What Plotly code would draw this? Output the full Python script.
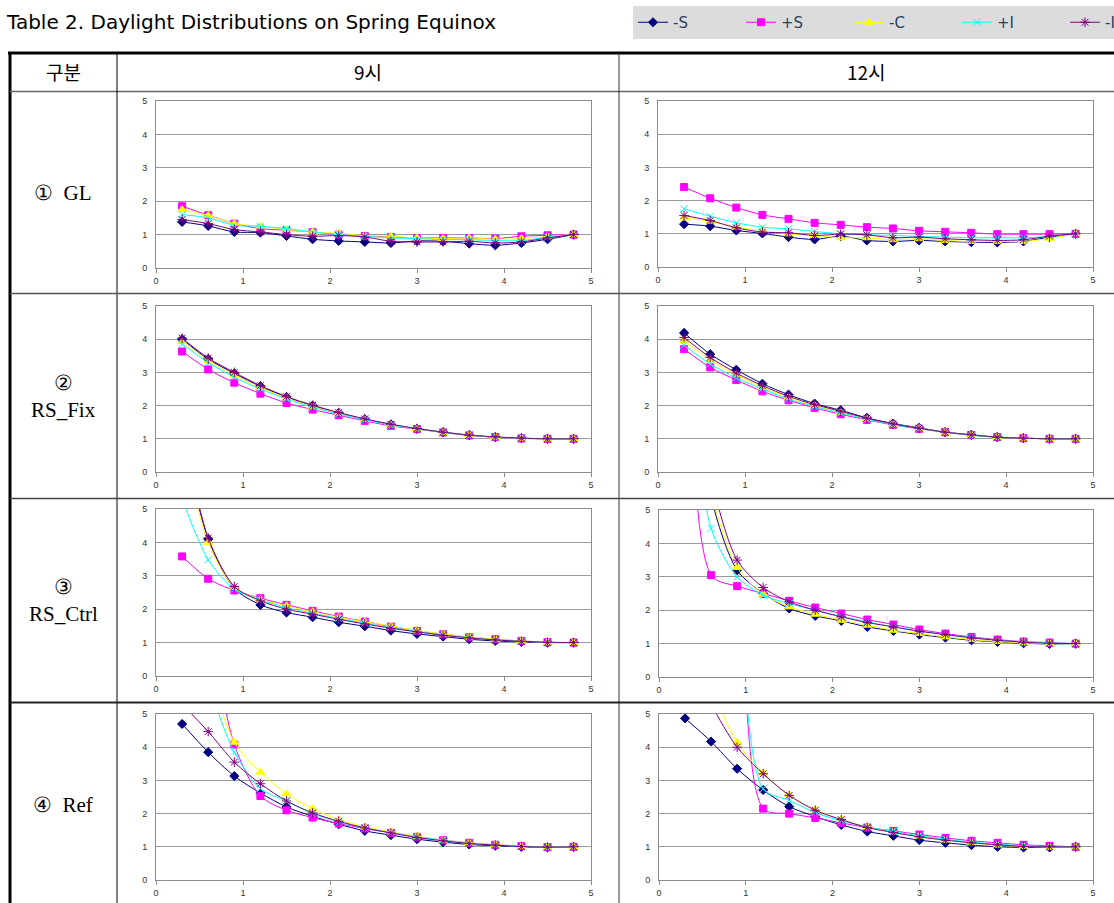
import plotly.graph_objects as go

W, H = 1114, 903

X = [0.3, 0.6, 0.9, 1.2, 1.5, 1.8, 2.1, 2.4, 2.7, 3.0, 3.3, 3.6, 3.9, 4.2, 4.5, 4.8]
SERIES = ["-S", "+S", "-C", "+I", "-I"]
COLORS = {"-S": "#000080", "+S": "#FF00FF", "-C": "#FFFF00", "+I": "#00FFFF", "-I": "#800080"}
SYMBOLS = {"-S": "diamond", "+S": "square", "-C": "triangle-up", "+I": "x-thin-open", "-I": "asterisk-open"}
SIZES = {"-S": 7, "+S": 7, "-C": 8, "+I": 7, "-I": 8}

ROW_LABELS = ["\u2460  GL", "\u2461<br>RS_Fix", "\u2462<br>RS_Ctrl", "\u2463  Ref"]
COL_LABELS = ["9\uc2dc", "12\uc2dc"]
HEAD_LABEL = "\uad6c\ubd84"
TITLE = "Table 2. Daylight Distributions on Spring Equinox"

GL_9 = {
    "-S": [1.38, 1.26, 1.08, 1.06, 0.96, 0.86, 0.81, 0.78, 0.75, 0.81, 0.80, 0.73, 0.68, 0.75, 0.86, 1.0],
    "+S": [1.85, 1.58, 1.33, 1.18, 1.13, 1.08, 1.00, 0.96, 0.93, 0.90, 0.90, 0.90, 0.88, 0.95, 0.98, 1.0],
    "-C": [1.75, 1.57, 1.33, 1.25, 1.15, 1.08, 1.04, 0.97, 0.95, 0.90, 0.88, 0.90, 0.86, 0.88, 0.94, 1.0],
    "+I": [1.60, 1.50, 1.28, 1.25, 1.18, 1.08, 1.00, 0.95, 0.90, 0.88, 0.85, 0.85, 0.82, 0.82, 0.92, 1.0],
    "-I": [1.45, 1.33, 1.15, 1.08, 1.00, 0.95, 0.97, 0.93, 0.80, 0.78, 0.78, 0.80, 0.75, 0.78, 0.90, 1.0],
}
GL_12 = {
    "-S": [1.29, 1.23, 1.10, 1.01, 0.90, 0.83, 0.93, 0.80, 0.77, 0.80, 0.77, 0.75, 0.74, 0.77, 0.90, 1.0],
    "+S": [2.41, 2.07, 1.79, 1.57, 1.45, 1.33, 1.27, 1.20, 1.16, 1.09, 1.06, 1.03, 0.99, 0.99, 0.99, 1.0],
    "-C": [1.48, 1.38, 1.20, 1.10, 1.00, 0.95, 0.88, 0.88, 0.82, 0.85, 0.80, 0.77, 0.77, 0.77, 0.86, 1.0],
    "+I": [1.75, 1.53, 1.33, 1.20, 1.15, 1.07, 1.00, 0.97, 0.95, 0.92, 0.90, 0.88, 0.88, 0.88, 0.92, 1.0],
    "-I": [1.55, 1.40, 1.18, 1.05, 1.03, 0.95, 0.99, 0.97, 0.88, 0.90, 0.85, 0.82, 0.80, 0.82, 0.93, 1.0],
}
FIX_9 = {
    "-S": [4.00, 3.40, 2.97, 2.58, 2.26, 2.00, 1.78, 1.59, 1.43, 1.30, 1.20, 1.11, 1.05, 1.02, 1.0, 1.0],
    "+S": [3.63, 3.09, 2.69, 2.36, 2.08, 1.88, 1.71, 1.54, 1.39, 1.29, 1.19, 1.10, 1.05, 1.01, 1.0, 1.0],
    "-C": [3.93, 3.36, 2.92, 2.54, 2.23, 1.97, 1.77, 1.58, 1.42, 1.30, 1.19, 1.11, 1.05, 1.02, 1.0, 1.0],
    "+I": [3.85, 3.30, 2.85, 2.50, 2.20, 1.95, 1.75, 1.57, 1.42, 1.30, 1.19, 1.11, 1.05, 1.02, 1.0, 1.0],
    "-I": [4.03, 3.43, 3.00, 2.60, 2.27, 2.01, 1.79, 1.60, 1.44, 1.31, 1.20, 1.11, 1.06, 1.02, 1.0, 1.0],
}
FIX_12 = {
    "-S": [4.19, 3.55, 3.08, 2.66, 2.33, 2.06, 1.86, 1.63, 1.46, 1.33, 1.20, 1.12, 1.05, 1.02, 1.0, 1.0],
    "+S": [3.70, 3.15, 2.77, 2.43, 2.16, 1.93, 1.74, 1.57, 1.42, 1.30, 1.20, 1.11, 1.05, 1.02, 1.0, 1.0],
    "-C": [3.95, 3.38, 2.93, 2.55, 2.25, 2.00, 1.80, 1.60, 1.44, 1.32, 1.20, 1.11, 1.05, 1.02, 1.0, 1.0],
    "+I": [3.82, 3.25, 2.83, 2.50, 2.20, 1.97, 1.78, 1.59, 1.43, 1.31, 1.20, 1.11, 1.05, 1.02, 1.0, 1.0],
    "-I": [4.05, 3.45, 2.98, 2.60, 2.28, 2.03, 1.83, 1.62, 1.45, 1.32, 1.20, 1.12, 1.05, 1.02, 1.0, 1.0],
}
CTRL_9 = {
    "-S": [7.3, 4.10, 2.62, 2.13, 1.90, 1.76, 1.61, 1.49, 1.36, 1.26, 1.18, 1.10, 1.05, 1.02, 1.0, 1.0],
    "+S": [3.58, 2.91, 2.56, 2.33, 2.13, 1.95, 1.78, 1.63, 1.48, 1.35, 1.25, 1.16, 1.10, 1.05, 1.01, 1.0],
    "-C": [7.0, 4.00, 2.65, 2.30, 2.10, 1.92, 1.76, 1.62, 1.50, 1.36, 1.26, 1.17, 1.10, 1.05, 1.01, 1.0],
    "+I": [5.3, 3.48, 2.60, 2.28, 2.05, 1.88, 1.72, 1.58, 1.45, 1.33, 1.23, 1.15, 1.08, 1.04, 1.01, 1.0],
    "-I": [7.5, 4.13, 2.68, 2.25, 2.00, 1.85, 1.70, 1.56, 1.43, 1.32, 1.22, 1.14, 1.08, 1.04, 1.01, 1.0],
}
CTRL_12 = {
    "-S": [12.0, 5.4, 3.20, 2.50, 2.05, 1.83, 1.68, 1.50, 1.38, 1.27, 1.18, 1.10, 1.05, 1.01, 0.99, 1.0],
    "+S": [20.0, 3.05, 2.72, 2.50, 2.28, 2.08, 1.90, 1.72, 1.57, 1.42, 1.30, 1.20, 1.12, 1.06, 1.03, 1.0],
    "-C": [12.0, 5.6, 3.28, 2.48, 2.10, 1.88, 1.70, 1.55, 1.40, 1.30, 1.20, 1.12, 1.06, 1.02, 1.0, 1.0],
    "+I": [10.0, 4.45, 3.00, 2.45, 2.20, 2.00, 1.82, 1.65, 1.50, 1.38, 1.27, 1.18, 1.10, 1.05, 1.02, 1.0],
    "-I": [12.0, 6.0, 3.50, 2.68, 2.25, 2.00, 1.80, 1.63, 1.50, 1.37, 1.27, 1.17, 1.10, 1.04, 1.01, 1.0],
}
REF_9 = {
    "-S": [4.70, 3.85, 3.13, 2.62, 2.20, 1.92, 1.68, 1.48, 1.35, 1.23, 1.14, 1.07, 1.03, 1.00, 0.98, 1.0],
    "+S": [12.0, 8.0, 4.08, 2.53, 2.10, 1.88, 1.70, 1.55, 1.42, 1.30, 1.20, 1.12, 1.06, 1.02, 0.99, 1.0],
    "-C": [10.0, 6.5, 4.15, 3.25, 2.60, 2.15, 1.82, 1.60, 1.45, 1.32, 1.20, 1.12, 1.06, 1.02, 0.99, 1.0],
    "+I": [10.0, 6.0, 3.85, 2.75, 2.38, 2.00, 1.75, 1.57, 1.42, 1.30, 1.20, 1.10, 1.05, 1.01, 0.99, 1.0],
    "-I": [5.3, 4.47, 3.55, 2.90, 2.38, 2.02, 1.77, 1.57, 1.42, 1.28, 1.18, 1.10, 1.05, 1.01, 0.99, 1.0],
}
REF_12 = {
    "-S": [4.87, 4.17, 3.35, 2.71, 2.21, 1.91, 1.66, 1.46, 1.33, 1.20, 1.12, 1.05, 1.00, 0.98, 0.98, 1.0],
    "+S": [35.0, 25.0, 12.0, 2.15, 2.00, 1.87, 1.72, 1.58, 1.48, 1.37, 1.27, 1.18, 1.12, 1.06, 1.03, 1.0],
    "-C": [8.0, 5.8, 4.15, 3.22, 2.55, 2.12, 1.82, 1.60, 1.45, 1.32, 1.20, 1.12, 1.05, 1.01, 0.99, 1.0],
    "+I": [30.0, 20.0, 9.0, 2.75, 2.40, 2.03, 1.78, 1.60, 1.46, 1.33, 1.23, 1.14, 1.08, 1.03, 1.01, 1.0],
    "-I": [7.0, 5.3, 4.00, 3.20, 2.55, 2.10, 1.82, 1.58, 1.43, 1.30, 1.20, 1.12, 1.06, 1.01, 1.00, 1.0],
}

PANELS = [GL_9, GL_12, FIX_9, FIX_12, CTRL_9, CTRL_12, REF_9, REF_12]

# plot-area boxes in pixels (left, right, top, bottom)
BOXES = [
    (156, 591, 101, 268), (658, 1093, 101, 267),
    (156, 591, 306, 472), (658, 1093, 306, 472),
    (156, 591, 509, 676), (659, 1093, 510, 677),
    (156, 591, 714, 880), (659, 1093, 714, 880),
]


def px(x):
    return x / W


def py(y):
    return 1 - y / H


fig = go.Figure()
layout = {}
for i, (panel, box) in enumerate(zip(PANELS, BOXES)):
    n = i + 1
    xa = "x" if n == 1 else f"x{n}"
    ya = "y" if n == 1 else f"y{n}"
    for s in SERIES:
        fig.add_trace(go.Scatter(
            x=X, y=panel[s], xaxis=xa, yaxis=ya, name=s, legendgroup=s,
            showlegend=(n == 1), mode="lines+markers",
            line=dict(color=COLORS[s], width=1, shape="spline", smoothing=0.8),
            marker=dict(symbol=SYMBOLS[s], size=SIZES[s], color=COLORS[s],
                        line=dict(color=COLORS[s], width=1)),
        ))
    l, r, t, b = box
    layout["xaxis" if n == 1 else f"xaxis{n}"] = dict(
        domain=[px(l), px(r)], anchor=ya, range=[0, 5], tickvals=[0, 1, 2, 3, 4, 5],
        showgrid=False, zeroline=False, showline=True, mirror=True, linecolor="#8c8c8c",
        linewidth=1, ticks="outside", ticklen=4, tickcolor="#8c8c8c",
        tickfont=dict(family="Liberation Sans", size=9, color="#333333"), fixedrange=True,
    )
    layout["yaxis" if n == 1 else f"yaxis{n}"] = dict(
        domain=[py(b), py(t)], anchor=xa, range=[0, 5], tickvals=[0, 1, 2, 3, 4, 5],
        showgrid=True, gridcolor="#9a9a9a", gridwidth=1, zeroline=False, showline=True,
        mirror=True, linecolor="#8c8c8c", linewidth=1, ticks="", ticklabelstandoff=6,
        tickfont=dict(family="Liberation Sans", size=9, color="#333333"), fixedrange=True,
    )

shapes = []


def hline(y, x0, x1, color, width):
    shapes.append(dict(type="line", xref="paper", yref="paper", x0=px(x0), x1=px(x1),
                       y0=py(y), y1=py(y), line=dict(color=color, width=width)))


def vline(x, y0, y1, color, width):
    shapes.append(dict(type="line", xref="paper", yref="paper", x0=px(x), x1=px(x),
                       y0=py(y0), y1=py(y1), line=dict(color=color, width=width)))


hline(53, 8, W, "#000000", 3)
vline(10, 52, H, "#000000", 3)
hline(91.5, 10, W, "#666666", 1.5)
vline(117, 53, H, "#000000", 1)
vline(619, 53, H, "#333333", 1)
hline(293.5, 10, W, "#555555", 1.5)
hline(498.5, 10, W, "#444444", 1.5)
hline(702.5, 10, W, "#222222", 2)

annotations = []


def text(x, y, s, size, family, xanchor="center", color="#000000"):
    annotations.append(dict(x=px(x), y=py(y), xref="paper", yref="paper", text=s,
                            showarrow=False, xanchor=xanchor, yanchor="middle",
                            font=dict(size=size, family=family, color=color)))


text(4, 22, TITLE, 20, "DejaVu Sans", xanchor="left")
text(63, 72, HEAD_LABEL, 19, "Noto Sans CJK KR")
text(368, 72, COL_LABELS[0], 19, "Noto Sans CJK KR")
text(866, 72, COL_LABELS[1], 19, "Noto Sans CJK KR")
row_centers = [193, 397, 600, 805]
for lab, yc in zip(ROW_LABELS, row_centers):
    annotations.append(dict(x=px(63), y=py(yc), xref="paper", yref="paper", text=lab,
                            showarrow=False, xanchor="center", yanchor="middle",
                            font=dict(size=21, family="Liberation Serif", color="#000000")))

fig.update_layout(
    **layout,
    width=W, height=H,
    margin=dict(l=0, r=0, t=0, b=0, autoexpand=False),
    paper_bgcolor="white", plot_bgcolor="white",
    shapes=shapes, annotations=annotations,
    showlegend=True,
    legend=dict(orientation="h", x=px(633), y=py(6), xanchor="left", yanchor="top",
                bgcolor="#dcdcdc", borderwidth=0, font=dict(family="DejaVu Sans", size=15),
                entrywidth=63, entrywidthmode="pixels", itemwidth=30, tracegroupgap=0),
)

fig.write_html("out.html")
